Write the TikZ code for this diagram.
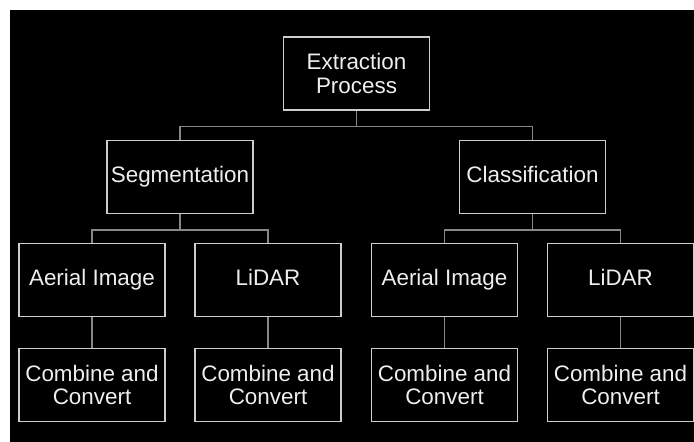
\documentclass[tikz,border=0pt]{standalone}
\usepackage{fontspec}
\setmainfont{Liberation Sans}
\definecolor{boxline}{RGB}{205,205,205}
\definecolor{linkline}{RGB}{135,135,135}
\definecolor{labeltext}{RGB}{238,238,238}

\begin{document}
\begin{tikzpicture}[x=1bp, y=1bp,
    box/.style={draw=boxline, line width=1.3bp, text=labeltext, align=center,
        minimum width=146bp, minimum height=73bp, inner sep=0pt,
        font=\fontsize{22.5}{24}\selectfont},
    oneline/.style={box, text height=16bp, text depth=5bp},
    link/.style={draw=linkline, line width=1.3bp}]
    % page with a thin white strip at top and left
    \fill[white] (0,0) rectangle (694,442);
    \fill[black] (10,0) rectangle (694,432);
    \useasboundingbox (0,0) rectangle (694,442);

    % top level
    \node[box] (extract) at (356.5, 368.5) {Extraction\\Process};

    % second level
    \node[oneline] (segment) at (180, 265) {Segmentation};
    \node[oneline] (classify) at (532.5, 265) {Classification};

    % data sources
    \node[oneline] (segaerial) at (92, 162) {Aerial Image};
    \node[oneline] (seglidar) at (268, 162) {LiDAR};
    \node[oneline] (clsaerial) at (444.5, 162) {Aerial Image};
    \node[oneline] (clslidar) at (620.5, 162) {LiDAR};

    % combine step under each source
    \foreach \src/\x in {segaerial/92, seglidar/268, clsaerial/444.5, clslidar/620.5} {
        \node[box] (\src-comb) at (\x, 57) {Combine and\\Convert};
        \draw[link] (\src) -- (\src-comb);
    }

    % tree connectors
    \draw[link] (extract.south) -- ++(0,-16) -| (segment.north);
    \draw[link] (extract.south) -- ++(0,-16) -| (classify.north);
    \draw[link] (segment.south) -- ++(0,-16) -| (segaerial.north);
    \draw[link] (segment.south) -- ++(0,-16) -| (seglidar.north);
    \draw[link] (classify.south) -- ++(0,-16) -| (clsaerial.north);
    \draw[link] (classify.south) -- ++(0,-16) -| (clslidar.north);
\end{tikzpicture}
\end{document}
